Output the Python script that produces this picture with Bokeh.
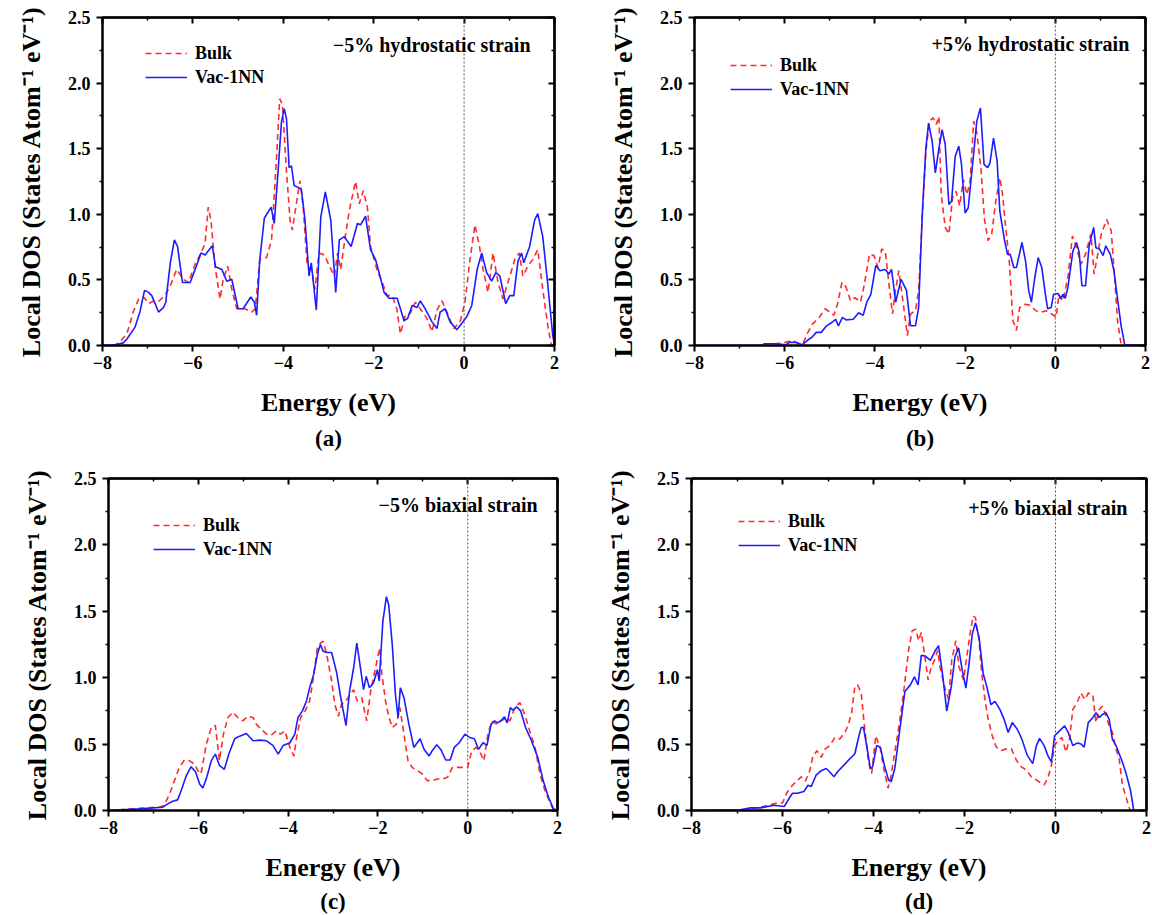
from bokeh.plotting import figure
from bokeh.models import Range1d, FixedTicker, LinearAxis, Span, Label, Legend, LegendItem, Title
from bokeh.layouts import column, row
from bokeh.embed import file_html
from bokeh.resources import INLINE

# ---------------- data (Energy eV, Local DOS) ----------------
A_BULK = [(-8.0,0.0),(-7.72,0.005),(-7.61,0.03),(-7.46,0.09),(-7.32,0.255),(-7.2,0.355),(-7.09,0.37),(-6.98,0.32),(-6.87,0.34),(-6.76,0.335),(-6.62,0.38),(-6.5,0.455),(-6.36,0.58),(-6.21,0.505),(-6.1,0.48),(-5.95,0.62),(-5.82,0.705),(-5.73,0.78),(-5.66,1.055),(-5.6,0.955),(-5.51,0.605),(-5.4,0.355),(-5.33,0.505),(-5.23,0.605),(-5.14,0.43),(-5.03,0.28),(-4.85,0.28),(-4.7,0.255),(-4.62,0.28),(-4.52,0.655),(-4.37,0.67),(-4.26,0.805),(-4.15,1.43),(-4.08,1.88),(-4.02,1.84),(-3.93,1.33),(-3.85,0.955),(-3.8,0.88),(-3.7,1.105),(-3.63,1.255),(-3.56,1.055),(-3.47,0.605),(-3.38,0.58),(-3.3,0.43),(-3.21,0.705),(-3.09,0.69),(-2.98,0.605),(-2.87,0.53),(-2.8,0.705),(-2.73,0.58),(-2.64,0.805),(-2.54,1.03),(-2.43,1.205),(-2.4,1.25),(-2.32,1.08),(-2.23,1.18),(-2.14,1.055),(-2.07,0.755),(-1.93,0.58),(-1.81,0.48),(-1.7,0.38),(-1.59,0.38),(-1.49,0.28),(-1.41,0.09),(-1.3,0.23),(-1.19,0.245),(-1.08,0.33),(-0.97,0.28),(-0.82,0.205),(-0.71,0.105),(-0.6,0.27),(-0.49,0.34),(-0.38,0.255),(-0.23,0.13),(-0.09,0.18),(0.02,0.33),(0.13,0.655),(0.24,0.92),(0.34,0.755),(0.42,0.58),(0.53,0.405),(0.64,0.705),(0.75,0.48),(0.86,0.355),(0.97,0.48),(1.12,0.655),(1.22,0.705),(1.3,0.53),(1.41,0.605),(1.52,0.655),(1.63,0.73),(1.74,0.43),(1.85,0.155),(1.93,0.005),(2.0,0.0)]
A_VAC = [(-8.0,0.0),(-7.7,0.005),(-7.54,0.02),(-7.46,0.05),(-7.28,0.14),(-7.17,0.26),(-7.07,0.42),(-6.98,0.405),(-6.91,0.38),(-6.76,0.255),(-6.65,0.29),(-6.6,0.33),(-6.5,0.63),(-6.41,0.805),(-6.34,0.755),(-6.23,0.48),(-6.06,0.48),(-5.95,0.58),(-5.82,0.705),(-5.73,0.69),(-5.57,0.76),(-5.5,0.6),(-5.36,0.58),(-5.25,0.49),(-5.14,0.505),(-5.0,0.28),(-4.89,0.28),(-4.72,0.37),(-4.64,0.33),(-4.59,0.23),(-4.52,0.655),(-4.42,0.97),(-4.27,1.055),(-4.2,0.93),(-4.11,1.355),(-4.04,1.705),(-3.98,1.805),(-3.93,1.73),(-3.87,1.355),(-3.82,1.37),(-3.76,1.22),(-3.67,1.205),(-3.6,1.19),(-3.52,0.955),(-3.43,0.53),(-3.38,0.63),(-3.27,0.27),(-3.17,0.98),(-3.07,1.17),(-2.95,0.955),(-2.84,0.405),(-2.76,0.805),(-2.65,0.83),(-2.5,0.755),(-2.36,0.93),(-2.29,0.92),(-2.18,0.985),(-2.07,0.73),(-1.96,0.655),(-1.88,0.555),(-1.77,0.405),(-1.66,0.36),(-1.48,0.36),(-1.33,0.19),(-1.25,0.205),(-1.15,0.305),(-1.04,0.29),(-0.97,0.34),(-0.86,0.28),(-0.71,0.18),(-0.6,0.13),(-0.53,0.255),(-0.42,0.28),(-0.31,0.18),(-0.16,0.12),(-0.05,0.17),(0.06,0.22),(0.17,0.305),(0.29,0.58),(0.39,0.705),(0.5,0.555),(0.61,0.49),(0.7,0.555),(0.79,0.53),(0.92,0.32),(1.01,0.38),(1.1,0.38),(1.19,0.64),(1.27,0.705),(1.32,0.63),(1.45,0.755),(1.56,0.955),(1.63,1.005),(1.74,0.83),(1.85,0.47),(1.96,0.08),(2.0,0.005)]

B_BULK = [(-8.0,0.0),(-6.6,0.0),(-6.3,0.01),(-6.05,0.018),(-5.89,0.033),(-5.81,0.038),(-5.7,0.013),(-5.58,0.025),(-5.5,0.09),(-5.38,0.165),(-5.23,0.215),(-5.11,0.28),(-4.99,0.255),(-4.91,0.23),(-4.83,0.315),(-4.73,0.48),(-4.64,0.445),(-4.54,0.34),(-4.44,0.365),(-4.32,0.33),(-4.24,0.455),(-4.12,0.695),(-4.02,0.685),(-3.93,0.595),(-3.85,0.735),(-3.77,0.72),(-3.69,0.47),(-3.61,0.24),(-3.55,0.405),(-3.47,0.57),(-3.37,0.315),(-3.28,0.075),(-3.21,0.24),(-3.1,0.265),(-3.03,0.42),(-2.95,0.975),(-2.87,1.48),(-2.79,1.71),(-2.71,1.735),(-2.64,1.685),(-2.58,1.745),(-2.53,1.15),(-2.44,0.9),(-2.36,0.85),(-2.28,1.125),(-2.2,1.175),(-2.12,1.065),(-2.04,1.265),(-1.96,1.15),(-1.89,1.25),(-1.81,1.71),(-1.74,1.62),(-1.65,1.355),(-1.57,0.96),(-1.49,0.8),(-1.41,0.85),(-1.33,1.075),(-1.23,1.28),(-1.17,1.15),(-1.1,0.9),(-1.02,0.645),(-0.94,0.19),(-0.86,0.115),(-0.79,0.29),(-0.66,0.315),(-0.55,0.305),(-0.43,0.265),(-0.31,0.255),(-0.2,0.265),(-0.08,0.24),(0.02,0.215),(0.08,0.39),(0.17,0.34),(0.28,0.52),(0.38,0.835),(0.47,0.745),(0.57,0.62),(0.67,0.695),(0.79,0.85),(0.86,0.545),(0.94,0.695),(1.02,0.85),(1.14,0.96),(1.24,0.875),(1.32,0.495),(1.38,0.19),(1.46,0.005),(2.0,0.0)]
B_VAC = [(-8.0,0.0),(-6.52,0.0),(-6.45,0.013),(-6.21,0.013),(-5.97,0.005),(-5.89,0.025),(-5.74,0.023),(-5.62,0.005),(-5.5,0.038),(-5.38,0.068),(-5.3,0.1),(-5.19,0.1),(-5.07,0.15),(-4.95,0.177),(-4.87,0.2),(-4.81,0.15),(-4.72,0.215),(-4.64,0.195),(-4.48,0.2),(-4.36,0.25),(-4.26,0.23),(-4.18,0.33),(-4.09,0.39),(-3.98,0.61),(-3.89,0.57),(-3.77,0.58),(-3.69,0.545),(-3.63,0.58),(-3.54,0.33),(-3.42,0.505),(-3.3,0.42),(-3.21,0.15),(-3.1,0.15),(-3.03,0.29),(-2.95,1.0),(-2.87,1.505),(-2.81,1.695),(-2.73,1.555),(-2.66,1.315),(-2.58,1.505),(-2.51,1.645),(-2.44,1.53),(-2.36,1.075),(-2.3,1.1),(-2.22,1.44),(-2.14,1.52),(-2.08,1.38),(-2.0,1.01),(-1.93,1.05),(-1.82,1.43),(-1.74,1.71),(-1.66,1.81),(-1.58,1.38),(-1.5,1.355),(-1.45,1.39),(-1.37,1.58),(-1.29,1.405),(-1.23,1.025),(-1.13,0.81),(-1.06,0.695),(-1.0,0.695),(-0.92,0.595),(-0.86,0.595),(-0.74,0.785),(-0.66,0.645),(-0.59,0.42),(-0.53,0.33),(-0.46,0.505),(-0.38,0.67),(-0.3,0.595),(-0.22,0.39),(-0.17,0.28),(-0.09,0.29),(-0.04,0.39),(0.06,0.397),(0.12,0.355),(0.17,0.39),(0.22,0.36),(0.28,0.443),(0.39,0.72),(0.47,0.785),(0.53,0.71),(0.59,0.455),(0.67,0.455),(0.75,0.76),(0.85,0.9),(0.9,0.745),(0.98,0.735),(1.06,0.685),(1.12,0.76),(1.22,0.695),(1.3,0.57),(1.38,0.355),(1.46,0.15),(1.54,0.005),(2.0,0.0)]

C_BULK = [(-8.0,0.0),(-7.17,0.02),(-6.87,0.025),(-6.76,0.0375),(-6.64,0.125),(-6.53,0.225),(-6.42,0.325),(-6.31,0.38),(-6.2,0.375),(-6.09,0.35),(-6.01,0.3),(-5.94,0.275),(-5.82,0.5),(-5.71,0.625),(-5.62,0.64),(-5.53,0.375),(-5.44,0.575),(-5.34,0.7),(-5.23,0.74),(-5.12,0.7),(-5.01,0.675),(-4.89,0.71),(-4.78,0.7),(-4.71,0.65),(-4.6,0.6125),(-4.48,0.575),(-4.37,0.57),(-4.26,0.6),(-4.17,0.575),(-4.07,0.6),(-3.96,0.475),(-3.87,0.41),(-3.81,0.55),(-3.72,0.7),(-3.62,0.75),(-3.52,0.825),(-3.44,0.99),(-3.35,1.225),(-3.28,1.26),(-3.22,1.275),(-3.14,1.175),(-3.03,0.975),(-2.96,0.8),(-2.88,0.71),(-2.81,0.8),(-2.71,0.825),(-2.62,0.875),(-2.54,0.91),(-2.46,0.825),(-2.36,0.85),(-2.25,0.675),(-2.16,0.9),(-2.06,1.0625),(-1.96,1.225),(-1.91,1.025),(-1.83,0.825),(-1.76,0.71),(-1.68,0.625),(-1.59,0.65),(-1.51,0.775),(-1.42,0.575),(-1.33,0.375),(-1.24,0.325),(-1.12,0.3),(-1.01,0.275),(-0.9,0.225),(-0.79,0.225),(-0.67,0.2375),(-0.56,0.2375),(-0.45,0.25),(-0.34,0.325),(-0.22,0.325),(-0.11,0.325),(0.0,0.325),(0.09,0.45),(0.19,0.475),(0.26,0.45),(0.36,0.375),(0.45,0.575),(0.54,0.675),(0.64,0.65),(0.75,0.675),(0.86,0.7),(0.94,0.675),(1.05,0.775),(1.16,0.8125),(1.27,0.725),(1.38,0.6),(1.5,0.475),(1.61,0.275),(1.72,0.15),(1.83,0.0625),(1.91,0.005),(2.0,0.0)]
C_VAC = [(-8.0,0.0),(-7.31,0.0125),(-6.79,0.025),(-6.68,0.05),(-6.57,0.07),(-6.46,0.08),(-6.38,0.15),(-6.27,0.26),(-6.16,0.33),(-6.06,0.29),(-5.97,0.2),(-5.9,0.17),(-5.82,0.24),(-5.71,0.375),(-5.62,0.425),(-5.53,0.34),(-5.42,0.31),(-5.32,0.425),(-5.19,0.54),(-5.08,0.56),(-4.93,0.58),(-4.78,0.525),(-4.63,0.53),(-4.48,0.525),(-4.34,0.49),(-4.22,0.425),(-4.11,0.49),(-3.96,0.51),(-3.85,0.575),(-3.78,0.7),(-3.68,0.75),(-3.59,0.825),(-3.52,0.925),(-3.43,1.025),(-3.35,1.175),(-3.28,1.25),(-3.22,1.2),(-3.14,1.19),(-3.03,1.19),(-2.92,1.04),(-2.84,0.875),(-2.75,0.71),(-2.71,0.64),(-2.63,0.9),(-2.54,1.075),(-2.47,1.26),(-2.4,1.1),(-2.32,0.91),(-2.26,1.01),(-2.19,0.925),(-2.1,0.96),(-2.01,1.06),(-1.97,0.975),(-1.89,1.425),(-1.81,1.61),(-1.76,1.55),(-1.68,1.25),(-1.61,0.875),(-1.55,0.7),(-1.5,0.925),(-1.42,0.85),(-1.31,0.65),(-1.2,0.475),(-1.06,0.54),(-0.97,0.46),(-0.86,0.41),(-0.79,0.45),(-0.69,0.495),(-0.6,0.46),(-0.49,0.38),(-0.39,0.38),(-0.3,0.475),(-0.19,0.51),(-0.06,0.575),(0.04,0.55),(0.15,0.54),(0.24,0.46),(0.34,0.51),(0.43,0.49),(0.52,0.65),(0.6,0.675),(0.67,0.66),(0.75,0.68),(0.82,0.705),(0.88,0.66),(0.95,0.775),(1.01,0.755),(1.09,0.78),(1.18,0.75),(1.29,0.625),(1.42,0.525),(1.56,0.4),(1.68,0.225),(1.8,0.1),(1.91,0.0125),(2.0,0.0)]

D_BULK = [(-8.0,0.0),(-6.9,0.0),(-6.48,0.025),(-6.26,0.044),(-6.11,0.057),(-6.0,0.057),(-5.89,0.143),(-5.78,0.19),(-5.7,0.217),(-5.59,0.254),(-5.5,0.22),(-5.41,0.29),(-5.33,0.41),(-5.24,0.45),(-5.15,0.4),(-5.06,0.464),(-4.96,0.489),(-4.85,0.55),(-4.74,0.538),(-4.63,0.588),(-4.56,0.637),(-4.48,0.736),(-4.41,0.933),(-4.35,0.946),(-4.27,0.884),(-4.2,0.637),(-4.11,0.365),(-4.04,0.279),(-3.95,0.563),(-3.85,0.464),(-3.76,0.29),(-3.68,0.168),(-3.62,0.25),(-3.52,0.464),(-3.43,0.662),(-3.34,0.884),(-3.23,1.205),(-3.15,1.353),(-3.07,1.365),(-3.01,1.279),(-2.95,1.341),(-2.88,1.18),(-2.8,0.983),(-2.73,1.081),(-2.66,1.131),(-2.59,1.205),(-2.54,1.081),(-2.44,0.933),(-2.35,0.835),(-2.28,1.131),(-2.19,1.279),(-2.12,1.081),(-2.02,0.983),(-1.95,1.156),(-1.88,1.328),(-1.81,1.464),(-1.76,1.452),(-1.68,1.279),(-1.62,1.032),(-1.55,0.835),(-1.48,0.686),(-1.39,0.563),(-1.3,0.477),(-1.19,0.452),(-1.08,0.464),(-0.97,0.464),(-0.86,0.378),(-0.75,0.328),(-0.64,0.304),(-0.53,0.254),(-0.42,0.23),(-0.31,0.205),(-0.25,0.193),(-0.17,0.242),(-0.09,0.34),(-0.02,0.489),(0.05,0.526),(0.14,0.55),(0.23,0.44),(0.31,0.538),(0.38,0.76),(0.47,0.81),(0.56,0.884),(0.65,0.835),(0.72,0.884),(0.82,0.872),(0.89,0.662),(0.96,0.76),(1.03,0.785),(1.11,0.711),(1.18,0.637),(1.25,0.588),(1.33,0.464),(1.4,0.39),(1.47,0.193),(1.55,0.1),(1.62,0.02),(1.65,0.0),(2.0,0.0)]
D_VAC = [(-8.0,0.0),(-6.93,0.005),(-6.7,0.02),(-6.48,0.02),(-6.19,0.04),(-5.96,0.03),(-5.85,0.094),(-5.78,0.13),(-5.67,0.13),(-5.53,0.143),(-5.44,0.19),(-5.37,0.18),(-5.26,0.267),(-5.15,0.3),(-5.04,0.316),(-4.96,0.29),(-4.87,0.254),(-4.78,0.296),(-4.64,0.345),(-4.52,0.39),(-4.41,0.427),(-4.32,0.563),(-4.27,0.625),(-4.22,0.625),(-4.15,0.489),(-4.07,0.316),(-4.02,0.328),(-3.93,0.489),(-3.85,0.477),(-3.76,0.34),(-3.67,0.23),(-3.61,0.217),(-3.53,0.32),(-3.43,0.588),(-3.31,0.896),(-3.19,0.946),(-3.1,1.007),(-3.02,0.946),(-2.95,1.168),(-2.86,1.163),(-2.75,1.131),(-2.64,1.205),(-2.57,1.242),(-2.48,1.02),(-2.39,0.748),(-2.29,0.933),(-2.21,1.156),(-2.13,1.225),(-2.05,1.057),(-1.97,0.921),(-1.9,1.106),(-1.83,1.328),(-1.76,1.415),(-1.68,1.304),(-1.59,1.032),(-1.51,0.933),(-1.42,0.798),(-1.33,0.822),(-1.22,0.76),(-1.13,0.686),(-1.04,0.588),(-0.95,0.662),(-0.84,0.612),(-0.74,0.538),(-0.62,0.415),(-0.5,0.353),(-0.42,0.489),(-0.35,0.543),(-0.25,0.489),(-0.17,0.415),(-0.09,0.365),(-0.02,0.563),(0.09,0.6),(0.2,0.637),(0.28,0.588),(0.38,0.489),(0.49,0.509),(0.56,0.501),(0.63,0.477),(0.72,0.662),(0.82,0.699),(0.89,0.736),(0.96,0.699),(1.03,0.723),(1.11,0.736),(1.18,0.686),(1.25,0.538),(1.33,0.489),(1.4,0.427),(1.47,0.365),(1.55,0.28),(1.65,0.15),(1.72,0.0),(2.0,0.0)]

STRAIN_LABELS = ["\u22125%  hydrostatic strain", "+5% hydrostatic strain",
                 "\u22125%  biaxial strain", "+5% biaxial strain"]
CAPTIONS = ["(a)", "(b)", "(c)", "(d)"]
SERIES_NAMES = ["Bulk", "Vac-1NN"]
X_TICKS = [-8, -6, -4, -2, 0, 2]
X_MINOR = [-7, -5, -3, -1, 1]
X_TICK_LABELS = ["\u22128", "\u22126", "\u22124", "\u22122", "0", "2"]
Y_TICKS = [0, 0.5, 1.0, 1.5, 2.0, 2.5]
Y_MINOR = [0.25, 0.75, 1.25, 1.75, 2.25]
Y_TICK_LABELS = ["0.0", "0.5", "1.0", "1.5", "2.0", "2.5"]
X_LABEL = "Energy (eV)"
Y_LABEL = "Local DOS (States Atom\u207b\u00b9 eV\u207b\u00b9)"

FONT = "Liberation Serif"
RED = "#ff2b2b"
BLUE = "#1c1cff"


def style_main_axis(ax, ticks, minor, labels, label):
    ax.ticker = FixedTicker(ticks=ticks, minor_ticks=minor)
    ax.major_label_overrides = {t: s for t, s in zip(ticks, labels)}
    ax.axis_line_color = "black"
    ax.axis_line_width = 2
    ax.major_tick_line_color = "black"
    ax.major_tick_line_width = 2
    ax.minor_tick_line_color = "black"
    ax.minor_tick_line_width = 1.5
    ax.major_tick_out = 6
    ax.major_tick_in = 0
    ax.minor_tick_out = 3
    ax.minor_tick_in = 0
    ax.major_label_text_font = FONT
    ax.major_label_text_font_style = "bold"
    ax.major_label_text_font_size = "18px"
    ax.major_label_text_color = "black"
    ax.axis_label = label
    ax.axis_label_text_font = FONT
    ax.axis_label_text_font_style = "bold"
    ax.axis_label_text_font_size = "26px"
    ax.axis_label_text_color = "black"


def mirror_axis(positions, length, width):
    # tick marks only (no labels): positions are drawn as minor ticks pointing inward
    ax = LinearAxis()
    ax.ticker = FixedTicker(ticks=[], minor_ticks=positions)
    ax.major_label_standoff = 0
    ax.axis_line_color = "black"
    ax.axis_line_width = 2
    ax.minor_tick_line_color = "black"
    ax.minor_tick_line_width = width
    ax.minor_tick_in = length
    ax.minor_tick_out = 0
    ax.major_tick_in = 0
    ax.major_tick_out = 0
    return ax


def make_panel(bulk, vac, strain, caption, W, H, L, R, T, B, text_xy, legend_xy,
               title_standoff, xlab_standoff):
    p = figure(width=W, height=H, min_border_left=L, min_border_right=R,
               min_border_top=T, min_border_bottom=B,
               x_range=Range1d(-8, 2), y_range=Range1d(0, 2.5),
               output_backend="svg", toolbar_location=None, tools="", title=None)
    p.grid.visible = False
    p.outline_line_color = "black"
    p.outline_line_width = 2
    p.background_fill_color = "white"
    p.border_fill_color = "white"

    style_main_axis(p.xaxis[0], X_TICKS, X_MINOR, X_TICK_LABELS, X_LABEL)
    style_main_axis(p.yaxis[0], Y_TICKS, Y_MINOR, Y_TICK_LABELS, Y_LABEL)
    p.xaxis[0].major_label_standoff = 4
    p.xaxis[0].axis_label_standoff = xlab_standoff
    p.yaxis[0].major_label_standoff = 6
    p.yaxis[0].axis_label_standoff = 19
    p.add_layout(mirror_axis(X_TICKS, 6, 2), "above")
    p.add_layout(mirror_axis(X_MINOR, 3, 1.5), "above")
    p.add_layout(mirror_axis(Y_TICKS, 6, 2), "right")
    p.add_layout(mirror_axis(Y_MINOR, 3, 1.5), "right")

    p.add_layout(Span(location=0, dimension="height", line_color="#555555",
                      line_dash="2 2", line_width=1))

    rb = p.line([e for e, _ in bulk], [d for _, d in bulk], line_color=RED,
                line_width=1.6, line_dash="6 4")
    rv = p.line([e for e, _ in vac], [d for _, d in vac], line_color=BLUE,
                line_width=1.6)

    legend = Legend(items=[LegendItem(label=SERIES_NAMES[0], renderers=[rb]),
                           LegendItem(label=SERIES_NAMES[1], renderers=[rv])],
                    location=legend_xy, orientation="vertical",
                    glyph_width=42, glyph_height=22, label_height=22, spacing=2,
                    label_standoff=8, padding=0, margin=0,
                    border_line_alpha=0, background_fill_alpha=0,
                    label_text_font=FONT, label_text_font_style="bold",
                    label_text_font_size="18px", label_text_color="black")
    p.add_layout(legend)

    p.add_layout(Label(x=text_xy[0], y=text_xy[1], text=strain, text_align="right",
                       text_baseline="middle", text_font=FONT, text_font_style="bold",
                       text_font_size="20px", text_color="black"))

    p.add_layout(Title(text=caption, align="center", text_font=FONT,
                       text_font_style="bold", text_font_size="23px",
                       text_color="black", standoff=title_standoff), "below")
    return p


pa = make_panel(A_BULK, A_VAC, STRAIN_LABELS[0], CAPTIONS[0], 562, 460, 102, 8, 17, 109,
                (1.58, 2.29), (43, 257), 9, 16)
pb = make_panel(B_BULK, B_VAC, STRAIN_LABELS[1], CAPTIONS[1], 590, 460, 132, 7, 16, 115,
                (1.64, 2.30), (36, 245), 9, 16)
pc = make_panel(C_BULK, C_VAC, STRAIN_LABELS[2], CAPTIONS[2], 565, 455, 108, 8, 18, 103,
                (1.67, 2.30), (45, 250), 4, 16)
pd = make_panel(D_BULK, D_VAC, STRAIN_LABELS[3], CAPTIONS[3], 587, 455, 126, 6, 18, 103,
                (1.58, 2.28), (47, 254), 4, 16)

layout = column(row(pa, pb), row(pc, pd))
open("out.html", "w").write(file_html(layout, INLINE))
